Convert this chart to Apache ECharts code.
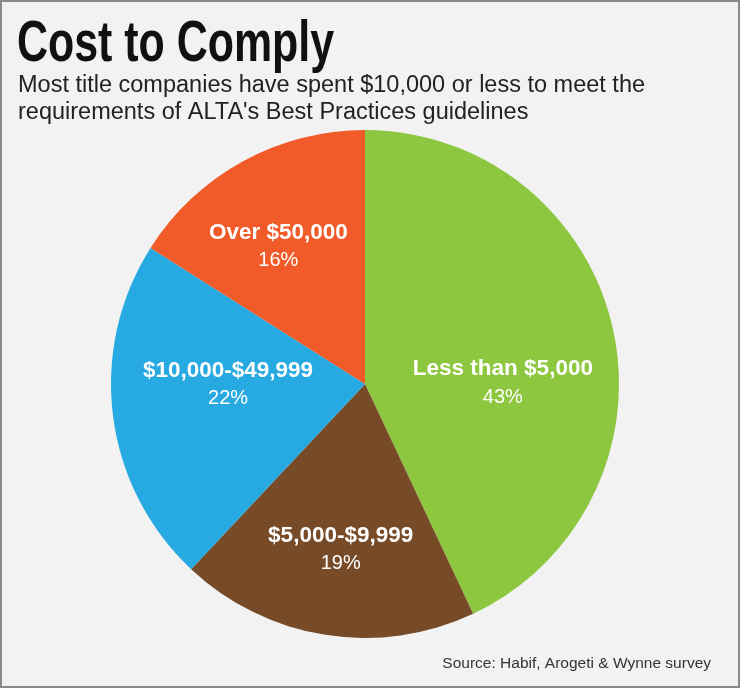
<!DOCTYPE html>
<html>
<head>
<meta charset="utf-8">
<script src="https://cdn.jsdelivr.net/npm/echarts@6/dist/echarts.min.js"></script>
<style>
  html, body { margin: 0; padding: 0; background: #f2f2f3; }
  #main { width: 740px; height: 688px; }
</style>
</head>
<body>
<div id="main"></div>
<script>
// survey shares, clockwise from 12 o'clock
const categories = ["Less than $5,000", "$5,000-$9,999", "$10,000-$49,999", "Over $50,000"];
const shares = [43, 19, 22, 16];
const sliceColors = ["#8dc63f", "#774b28", "#27a9e1", "#f15a29"];

// nudge each label from the default inside spot to where the original puts it
const labelNudge = [[11, 27], [-4, 37], [-8, -16], [-24, -24]];

let chartDom = document.getElementById("main");
let myChart = echarts.init(chartDom);

const plain = "'Liberation Sans', Arial, Helvetica, sans-serif";

let option = {
  backgroundColor: "#f2f2f3",
  animation: false,
  title: [
    {
      text: "Most title companies have spent $10,000 or less to meet the\nrequirements of ALTA's Best Practices guidelines",
      left: 13,
      top: 67,
      textStyle: { fontFamily: plain, fontWeight: "normal", fontSize: 23.5, lineHeight: 27, color: "#222" },
    },
    {
      text: "Source: Habif, Arogeti & Wynne survey",
      right: 24,
      top: 651,
      textStyle: { fontFamily: plain, fontWeight: "normal", fontSize: 15.5, color: "#333" },
    },
  ],
  graphic: [
    {
      type: "rect",
      shape: { x: 1, y: 1, width: 738, height: 686 },
      style: { fill: "none", stroke: "#8a8a8a", lineWidth: 2 },
      silent: true,
    },
    {
      // big condensed headline: squeeze a bold face horizontally
      type: "text",
      left: 17,
      top: 16,
      scaleX: 0.74,
      style: {
        text: "Cost to Comply",
        font: "bold 58px 'Liberation Sans', Arial, sans-serif",
        fill: "#111",
      },
      silent: true,
    },
  ],
  series: [
    {
      type: "pie",
      center: [365, 384],
      radius: 254,
      startAngle: 90,
      clockwise: true,
      avoidLabelOverlap: false,
      itemStyle: { borderWidth: 0 },
      label: {
        show: true,
        position: "inside",
        formatter: function (p) {
          return "{name|" + p.name + "}\n{pct|" + p.value + "%}";
        },
        rich: {
          name: { fontFamily: plain, fontWeight: "bold", fontSize: 22.5, color: "#fff", lineHeight: 29 },
          pct: { fontFamily: plain, fontWeight: "normal", fontSize: 20, color: "#fff", lineHeight: 27 },
        },
      },
      labelLine: { show: false },
      labelLayout: function (params) {
        const d = labelNudge[params.dataIndex];
        return { dx: d[0], dy: d[1] };
      },
      data: categories.map((name, i) => ({
        name: name,
        value: shares[i],
        itemStyle: { color: sliceColors[i] },
      })),
    },
  ],
};

option && myChart.setOption(option);
</script>
</body>
</html>
